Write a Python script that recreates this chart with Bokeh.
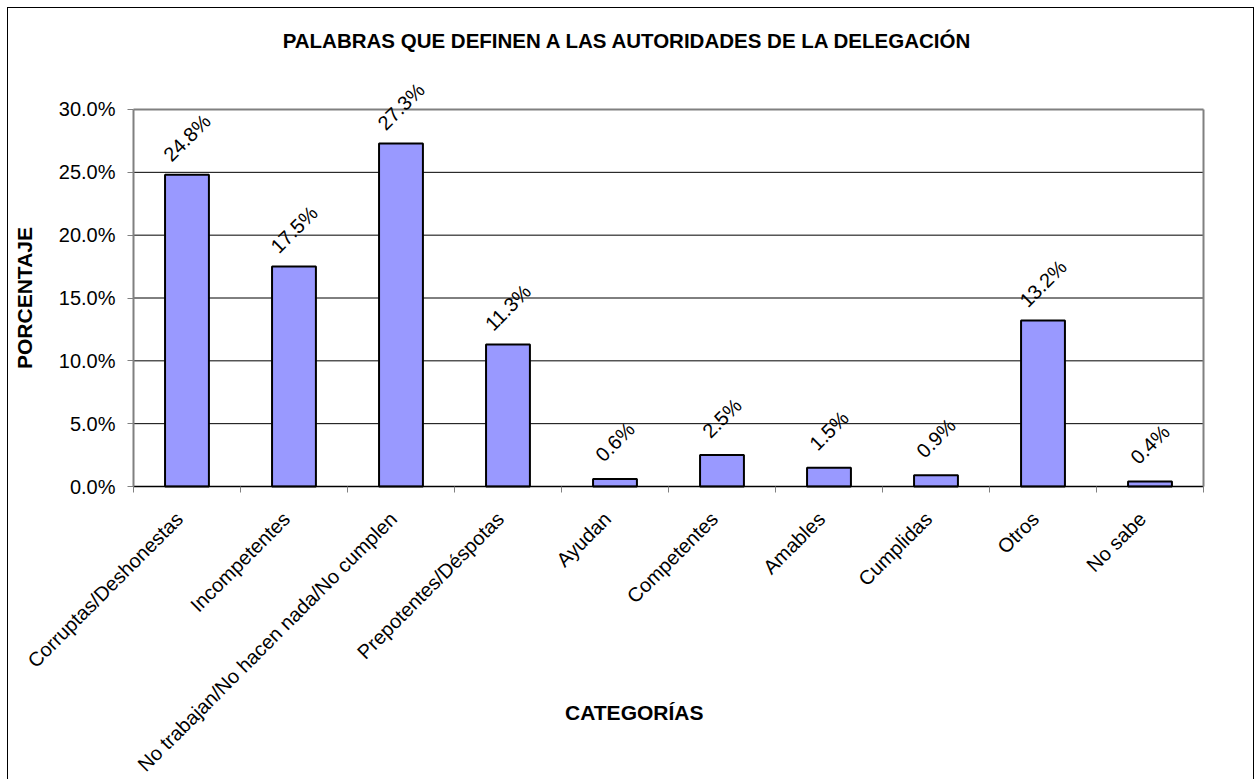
import math
from bokeh.plotting import figure
from bokeh.models import (ColumnDataSource, LabelSet, Label, FixedTicker,
                          PrintfTickFormatter, Range1d, LinearAxis)
from bokeh.core.properties import value
from bokeh.embed import file_html
from bokeh.resources import INLINE

title_text = "PALABRAS QUE DEFINEN A LAS AUTORIDADES DE LA DELEGACIÓN"
x_title = "CATEGORÍAS"
y_title = "PORCENTAJE"
categories = ["Corruptas/Deshonestas", "Incompetentes",
              "No trabajan/No hacen nada/No cumplen", "Prepotentes/Déspotas",
              "Ayudan", "Competentes", "Amables", "Cumplidas", "Otros", "No sabe"]
values = [24.8, 17.5, 27.3, 11.3, 0.6, 2.5, 1.5, 0.9, 13.2, 0.4]
y_ticks = [0, 5, 10, 15, 20, 25, 30]

FONT = "Liberation Sans"
GRAY = "#808080"
n = len(categories)
xs = [i + 0.5 for i in range(n)]
label_pos = [round(x - 0.07, 3) for x in xs]
labels = ["%.1f%%" % v for v in values]
y0, y_top = y_ticks[0], y_ticks[-1]
grid_vals = y_ticks[1:-1]

src = ColumnDataSource(dict(x=xs, top=values, lab=labels))

# The frame covers the whole chart area; axes sit at fixed data locations
# so the surrounding texts (rotated labels, titles) are not clipped.
p = figure(width=1247, height=772, output_backend="svg", toolbar_location=None,
           x_range=Range1d(-1.168, 10.486), y_range=Range1d(-23.395, 38.037),
           min_border_left=0, min_border_right=0, min_border_top=0,
           min_border_bottom=0)
p.styles = {"margin-left": "7px", "margin-top": "7px",
            "border-top": "1px solid black", "border-left": "1px solid black",
            "border-right": "1px solid black"}

p.outline_line_color = None
p.grid.visible = False

# horizontal gridlines across the plot area only
p.segment(x0=[0] * len(grid_vals), x1=[n] * len(grid_vals), y0=grid_vals,
          y1=grid_vals, line_color="black", line_width=1)

p.vbar(x="x", top="top", width=0.41, source=src, fill_color="#9999FF",
       line_color="black", line_width=2)

# y axis (doubles as left border of the plot area)
p.yaxis.fixed_location = 0
p.yaxis.ticker = FixedTicker(ticks=y_ticks)
p.yaxis.bounds = (y0, y_top)
p.yaxis.formatter = PrintfTickFormatter(format="%.1f%%")
p.yaxis.major_label_text_font = FONT
p.yaxis.major_label_text_font_size = "20px"
p.yaxis.major_label_text_color = "black"
p.yaxis.major_label_standoff = 12
p.yaxis.major_tick_in = 0
p.yaxis.major_tick_out = 6
p.yaxis.minor_tick_line_color = None
p.yaxis.axis_line_color = GRAY
p.yaxis.axis_line_width = 2
p.yaxis.major_tick_line_color = GRAY

# x axis
p.xaxis.fixed_location = 0
p.xaxis.bounds = (0, n)
p.xaxis.ticker = FixedTicker(ticks=label_pos, minor_ticks=list(range(n + 1)))
p.xaxis.major_label_overrides = {x: c for x, c in zip(label_pos, categories)}
p.xaxis.major_label_orientation = math.pi / 4
p.xaxis.major_label_text_font = FONT
p.xaxis.major_label_text_font_size = "20px"
p.xaxis.major_label_text_color = "black"
p.xaxis.major_label_standoff = 23
p.xaxis.major_tick_line_color = None
p.xaxis.major_tick_in = 0
p.xaxis.major_tick_out = 6
p.xaxis.minor_tick_in = 0
p.xaxis.minor_tick_out = 6
p.xaxis.minor_tick_line_color = GRAY
p.xaxis.axis_line_color = "black"
p.xaxis.axis_line_width = 1.5

# right and top borders of the plot area (added after styling the main axes)
rax = LinearAxis(fixed_location=n, ticker=FixedTicker(ticks=[]), bounds=(y0, y_top),
                 axis_line_color=GRAY, axis_line_width=2,
                 major_tick_line_color=None, minor_tick_line_color=None,
                 major_label_text_font_size="0px")
p.add_layout(rax, "right")
tax = LinearAxis(fixed_location=y_top, ticker=FixedTicker(ticks=[]), bounds=(0, n),
                 axis_line_color=GRAY, axis_line_width=2,
                 major_tick_line_color=None, minor_tick_line_color=None,
                 major_label_text_font_size="0px")
p.add_layout(tax, "above")

p.add_layout(LabelSet(x="x", y="top", text="lab", source=src, angle=math.pi / 4,
                      text_align="center", text_baseline="middle", y_offset=37,
                      text_font=value(FONT), text_font_size=value("20px"),
                      text_color="black"))

# chart title and axis titles
p.add_layout(Label(x=4.621, y=35.49, text=title_text, text_align="center",
                   text_baseline="middle", text_font=FONT, text_font_size="20.5px",
                   text_font_style="bold", text_color="black"))
p.add_layout(Label(x=4.68, y=-18.0, text=x_title, text_align="center",
                   text_baseline="middle", text_font=FONT, text_font_size="21px",
                   text_font_style="bold", text_color="black"))
p.add_layout(Label(x=-1.014, y=(y0 + y_top) / 2, text=y_title, angle=math.pi / 2,
                   text_align="center", text_baseline="middle", text_font=FONT,
                   text_font_size="21px", text_font_style="bold",
                   text_color="black"))

open("out.html", "w").write(file_html(p, INLINE))
